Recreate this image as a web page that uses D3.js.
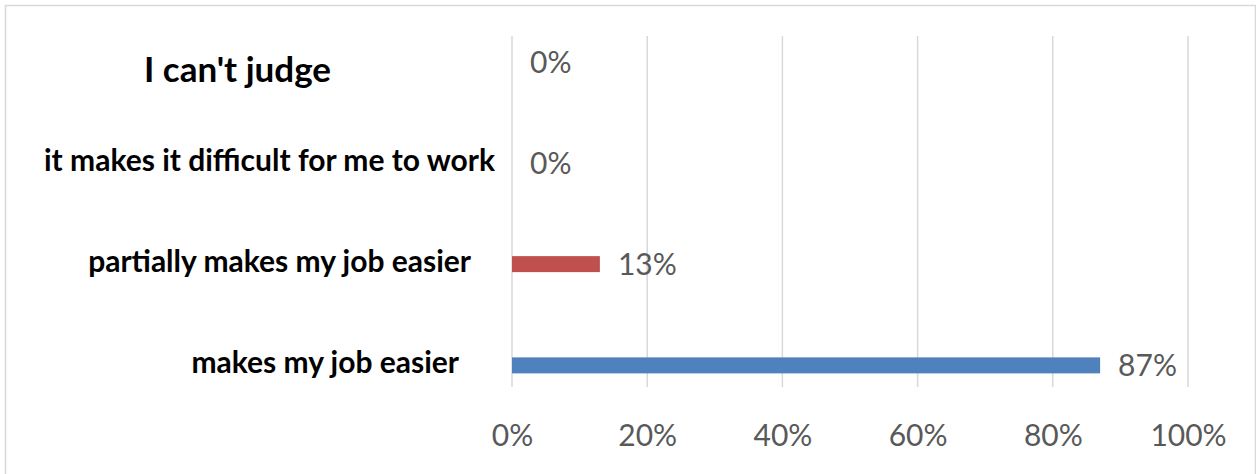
<!DOCTYPE html>
<html>
<head>
<meta charset="utf-8">
<script src="https://cdn.jsdelivr.net/npm/d3@7"></script>
<style>
  html, body { margin: 0; padding: 0; background: #fff; }
  svg { display: block; }
</style>
</head>
<body>
<svg id="chart" width="1256" height="474"></svg>
<script>
// Survey answers, bottom to top as they appear on the axis
const categories = [
  "makes my job easier",
  "partially makes my job easier",
  "it makes it difficult for me to work",
  "I can't judge"
];
const shares = [87, 13, 0, 0];
const barColors = ["#4F81BD", "#C0504D", "#9BBB59", "#8064A2"];
const tickValues = [0, 20, 40, 60, 80, 100];
const tickLabels = ["0%", "20%", "40%", "60%", "80%", "100%"];

const svg = d3.select("#chart");
const W = 1256, H = 474;

// outer frame
svg.append("rect")
  .attr("x", 5.5).attr("y", 5.5)
  .attr("width", W - 6).attr("height", H)
  .attr("fill", "#fff").attr("stroke", "#d9d9d9").attr("stroke-width", 1.5);

const plot = { left: 512, right: 1188, top: 36, bottom: 387 };

const x = d3.scaleLinear().domain([0, 100]).range([plot.left, plot.right]);
const y = d3.scaleBand()
  .domain(categories.slice().reverse())
  .range([11, 416]);

const labelFont = "'Lato', 'Open Sans', sans-serif";

// vertical gridlines
svg.append("g")
  .selectAll("line")
  .data(tickValues)
  .join("line")
  .attr("x1", d => x(d)).attr("x2", d => x(d))
  .attr("y1", plot.top).attr("y2", plot.bottom)
  .attr("stroke", "#d9d9d9").attr("stroke-width", 1.5);

// x-axis tick labels
const xAxis = d3.axisBottom(x)
  .tickValues(tickValues)
  .tickFormat((d, i) => tickLabels[i])
  .tickSize(0)
  .tickPadding(0);
const gx = svg.append("g")
  .attr("transform", `translate(0, ${plot.bottom})`)
  .call(xAxis);
gx.select(".domain").remove();
gx.selectAll("text")
  .attr("dy", null)
  .attr("y", 59)
  .attr("fill", "#595959")
  .attr("font-family", labelFont)
  .attr("font-size", 30);

// bars
const barH = 16;
const mid = d => y(d) + y.bandwidth() / 2;
svg.append("g")
  .selectAll("rect")
  .data(categories)
  .join("rect")
  .attr("x", x(0))
  .attr("y", d => mid(d) - barH / 2)
  .attr("width", (d, i) => x(shares[i]) - x(0))
  .attr("height", barH)
  .attr("fill", (d, i) => barColors[i]);

// value labels
svg.append("g")
  .selectAll("text")
  .data(categories)
  .join("text")
  .attr("x", (d, i) => x(shares[i]) + 18)
  .attr("y", d => mid(d) + 11)
  .attr("fill", "#595959")
  .attr("font-family", labelFont)
  .attr("font-size", 30)
  .text((d, i) => shares[i] + "%");

// category labels, each set at its own right edge and size
const labelStyle = {
  "makes my job easier": { anchor: 459, size: 30, dy: 8 },
  "partially makes my job easier": { anchor: 471, size: 30, dy: 8 },
  "it makes it difficult for me to work": { anchor: 495, size: 30, dy: 8 },
  "I can't judge": { anchor: 331, size: 35, dy: 20 }
};
svg.append("g")
  .selectAll("text")
  .data(categories)
  .join("text")
  .attr("x", d => labelStyle[d].anchor)
  .attr("y", d => mid(d) + labelStyle[d].dy)
  .attr("text-anchor", "end")
  .attr("fill", "#000")
  .attr("font-family", labelFont)
  .attr("font-weight", "bold")
  .attr("font-size", d => labelStyle[d].size)
  .text(d => d);
</script>
</body>
</html>
